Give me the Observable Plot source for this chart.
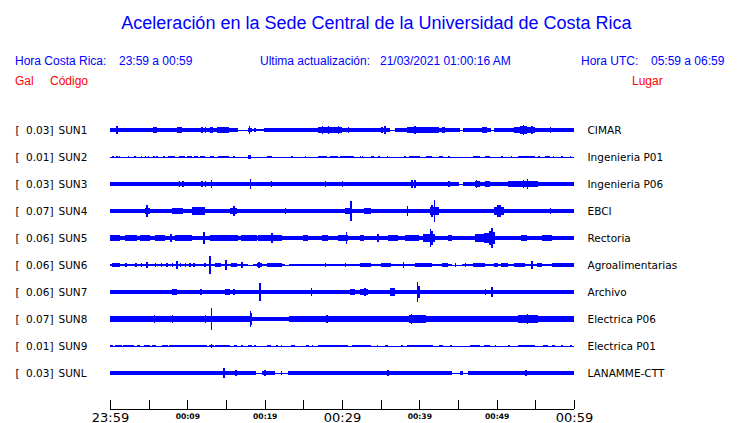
<!DOCTYPE html>
<html><head><meta charset="utf-8">
<script src="https://cdn.jsdelivr.net/npm/d3@7"></script>
<script src="https://cdn.jsdelivr.net/npm/@observablehq/plot@0.6"></script>
<style>
body{margin:0;background:#fff;}
#wrap{position:relative;width:740px;height:423px;overflow:hidden;background:#fff;}
#head{position:absolute;left:0;top:0;}
#chart{position:absolute;left:0;top:90px;}
</style></head><body>
<div id="wrap"><svg id="head" width="740" height="90"></svg><div id="chart"></div></div>
<script>
// ---- data ----
const codes = ["SUN1","SUN2","SUN3","SUN4","SUN5","SUN6","SUN7","SUN8","SUN9","SUNL"];
const places = ["CIMAR","Ingenieria P01","Ingenieria P06","EBCI","Rectoria","Agroalimentarias","Archivo","Electrica P06","Electrica P01","LANAMME-CTT"];
const peakGal = [0.03,0.01,0.03,0.07,0.06,0.06,0.06,0.07,0.01,0.03];
// half-amplitude (Gal) of the background noise band of each trace
const baseGal = [0.0095,0,0.0105,0.0095,0.0125,0.0075,0.011,0.016,0,0.0095];
// minutes after 23:59 where the background band drops to the bare line
const thinSpans = [
  [[16.6,17.9],[18.4,19.9],[36.2,36.85],[45.3,45.9],[49.3,49.6]],
  [],
  [[45.1,45.6]],
  [],
  [],
  [[17.9,18.5],[22.6,23.1],[44.2,45.5]],
  [],
  [[18.3,23.1]],
  [],
  [[18.9,19.6],[21.3,23.06],[44.2,45.3],[45.7,46.3]]
];
// bursts: [start minute, end minute, half-amplitude Gal]
const bursts = [
  [[8.6,9.35,0.016],[13.8,15.4,0.018],[18.4,19.9,0.006],[20.0,20.9,0.015],[26.9,30.0,0.02],[30.6,31.5,0.014],[32.3,34.0,0.013],[38.4,42.5,0.016],[39.2,40.1,0.02],[42.7,43.5,0.014],[48.1,48.7,0.018],[52.2,54.9,0.02],[53.0,53.9,0.026],[56.2,57.5,0.013]],
  [[6.9,7.1,0.008],[7.5,8.4,0.008],[8.9,9.7,0.008],[9.9,10.6,0.008],[10.8,11.4,0.008],[11.6,12.3,0.008],[12.9,13.5,0.007],[14.0,15.4,0.008],[17.9,18.2,0.011],[20.3,20.9,0.009],[26.9,28.1,0.009],[28.4,29.5,0.008],[29.7,31.5,0.008],[33.8,34.2,0.007],[38.7,40.1,0.008],[40.9,41.6,0.008],[42.5,43.1,0.008],[47.0,47.8,0.008],[48.5,49.1,0.007],[52.7,55.0,0.009],[56.2,56.9,0.007]],
  [[0.86,1.1,0.015],[1.5,2.4,0.013],[4.9,5.4,0.015],[5.8,6.7,0.014],[6.9,12.5,0.015],[14.0,16.4,0.015],[26.9,31.5,0.015],[40.3,41.6,0.015],[47.2,47.8,0.017],[48.5,49.1,0.017],[51.5,55.4,0.017],[55.4,57.5,0.013]],
  [[3.2,3.9,0.015],[4.5,5.2,0.02],[5.4,6.0,0.015],[8.0,9.5,0.017],[10.6,12.3,0.022],[11.4,12.1,0.026],[12.7,14.9,0.013],[15.5,16.4,0.02],[25.6,26.1,0.015],[30.4,31.25,0.018],[32.8,33.8,0.017],[39.9,40.3,0.014],[41.4,42.5,0.022],[44.4,45.5,0.015],[49.6,50.9,0.028],[50.0,50.6,0.035],[55.2,55.8,0.014],[58.4,59.7,0.013]],
  [[0,1.3,0.018],[1.9,3.45,0.016],[3.9,5.2,0.017],[5.8,7.1,0.016],[8.4,10.6,0.016],[12.9,16.6,0.016],[17.0,19.0,0.016],[19.2,22.2,0.016],[23.3,24.1,0.015],[25.0,25.6,0.02],[27.4,28.2,0.016],[29.5,30.8,0.02],[32.3,32.8,0.016],[36.0,37.3,0.016],[38.1,39.9,0.016],[40.5,42.0,0.025],[43.75,44.2,0.018],[47.2,48.7,0.022],[48.3,49.6,0.03],[53.2,53.9,0.016],[55.8,57.1,0.016],[58.6,59.7,0.015]],
  [[0.2,1.3,0.013],[13.6,14.4,0.014],[15.7,16.4,0.013],[19.0,19.6,0.015],[20.3,22.2,0.01],[32.3,33.8,0.012],[35.1,36.4,0.011],[39.4,41.6,0.012],[42.9,43.75,0.012],[47.0,48.5,0.012],[49.6,50.2,0.012],[50.6,51.5,0.014],[52.2,53.7,0.012],[55.2,55.8,0.013],[57.1,60,0.011]],
  [[4.7,5.2,0.015],[8.0,8.6,0.02],[11.6,11.85,0.017],[14.9,15.5,0.02],[28.4,28.9,0.015],[31.0,31.7,0.02],[32.3,33.2,0.02],[36.2,36.85,0.022],[46.8,47.4,0.015]],
  [[0,4.1,0.02],[4.5,12.5,0.02],[13.6,16.4,0.02],[18.3,23.1,0.011],[19.2,20.9,0.014],[23.3,25.2,0.018],[26.9,30.4,0.02],[32.3,33.8,0.018],[34.7,36.0,0.018],[38.6,40.9,0.022],[42.5,44.2,0.018],[46.55,51.5,0.019],[52.8,55.4,0.023],[56.2,60,0.018]],
  [[0,0.4,0.008],[0.65,1.5,0.008],[1.7,2.8,0.008],[2.9,3.15,0.008],[3.45,3.9,0.008],[4.4,5.2,0.008],[5.4,6.0,0.008],[6.7,7.5,0.008],[7.6,12.5,0.008],[12.8,13.4,0.008],[13.6,15.5,0.008],[16.0,16.4,0.008],[17.9,18.3,0.008],[20.3,20.8,0.008],[23.4,23.9,0.007],[25.3,25.7,0.008],[26.9,30.8,0.008],[31.25,33.8,0.008],[35.6,35.9,0.008],[38.4,41.8,0.008],[42.5,43.1,0.008],[46.55,47.8,0.008],[48.3,49.1,0.008],[52.7,55.0,0.008],[56.0,56.7,0.008],[57.1,57.5,0.008],[59.5,59.7,0.008]],
  [[17.0,18.9,0.012],[19.6,21.3,0.012],[23.3,24.8,0.012],[26.9,29.5,0.011],[35.1,36.0,0.013],[46.55,51.5,0.012]]
];
// spikes: [minute, half-amplitude Gal]
const spikes = [
  [[0.86,0.023],[3.1,0.015],[5.6,0.021],[5.9,0.018],[11.85,0.017],[12.3,0.016],[12.9,0.019],[13.1,0.02],[14.65,0.02],[17.97,0.028],[18.7,0.014],[25.2,0.012],[27.4,0.024],[28.2,0.022],[29.5,0.026],[30.8,0.016],[32.6,0.015],[33.2,0.015],[34.5,0.015],[35.1,0.016],[35.5,0.022],[37.7,0.013],[39.4,0.022],[42.9,0.017],[43.1,0.016],[45.7,0.015],[48.4,0.018],[53.4,0.032],[53.2,0.028],[54.5,0.022],[56.9,0.016],[58.4,0.015]],
  [[0.3,0.006],[0.86,0.007],[1.16,0.005],[2.3,0.006],[3.15,0.006],[4.0,0.006],[4.5,0.006],[4.9,0.006],[5.6,0.006],[6.0,0.006],[16.0,0.006],[23.5,0.006],[25.2,0.006],[32.3,0.007],[32.6,0.006],[34.7,0.006],[35.8,0.007],[38.1,0.007],[43.75,0.007],[50.6,0.006],[51.85,0.006],[55.4,0.006],[57.3,0.006],[58.4,0.005],[59.5,0.006]],
  [[3.15,0.014],[8.9,0.018],[9.35,0.018],[11.85,0.018],[12.3,0.017],[13.06,0.027],[18.1,0.03],[19.0,0.014],[20.5,0.015],[20.8,0.02],[22.1,0.013],[23.5,0.013],[25.2,0.012],[27.8,0.02],[30.0,0.02],[32.5,0.014],[34.05,0.014],[35.8,0.014],[39.0,0.025],[39.4,0.025],[42.7,0.015],[43.75,0.018],[47.3,0.022],[53.4,0.022],[53.9,0.03]],
  [[1.0,0.015],[4.7,0.035],[8.9,0.02],[11.85,0.028],[12.1,0.024],[15.95,0.03],[17.9,0.013],[19.2,0.013],[20.5,0.013],[21.8,0.013],[22.6,0.016],[26.9,0.012],[28.2,0.013],[31.1,0.06],[35.1,0.014],[38.4,0.03],[41.6,0.04],[41.9,0.07],[46.8,0.014],[48.1,0.013],[50.3,0.035],[56.9,0.02],[59.5,0.013]],
  [[7.8,0.023],[12.1,0.035],[20.9,0.03],[30.5,0.035],[34.6,0.027],[41.4,0.057],[41.6,0.045],[49.1,0.045],[49.35,0.06],[49.6,0.04]],
  [[2.0,0.013],[3.3,0.012],[4.0,0.013],[4.7,0.02],[5.8,0.013],[6.6,0.013],[7.3,0.013],[8.0,0.013],[8.6,0.028],[9.05,0.015],[9.7,0.013],[10.3,0.013],[10.8,0.013],[12.2,0.015],[12.85,0.055],[14.95,0.03],[17.0,0.017],[17.1,0.017],[19.2,0.017],[27.8,0.013],[30.4,0.015],[37.9,0.017],[44.6,0.012],[45.9,0.012],[54.5,0.028]],
  [[1.5,0.015],[3.6,0.014],[7.1,0.014],[8.4,0.02],[9.7,0.015],[10.3,0.014],[15.95,0.02],[17.2,0.015],[18.3,0.015],[19.3,0.057],[25.0,0.015],[26.0,0.025],[26.9,0.015],[27.8,0.015],[30.0,0.015],[32.9,0.025],[33.2,0.02],[33.8,0.014],[34.5,0.014],[36.4,0.02],[37.5,0.015],[39.7,0.06],[39.9,0.04],[42.2,0.014],[43.5,0.013],[48.5,0.016],[49.3,0.03],[50.4,0.014],[52.8,0.014],[56.25,0.013]],
  [[5.7,0.026],[8.0,0.025],[12.3,0.025],[13.06,0.07],[18.1,0.052],[18.2,0.04],[28.0,0.027],[38.9,0.03],[44.2,0.02],[53.4,0.028],[53.9,0.033]],
  [[13.06,0.012],[17.0,0.008],[18.7,0.008],[21.55,0.008],[22.1,0.008],[26.1,0.008],[34.5,0.008],[37.7,0.008],[44.0,0.008],[49.8,0.008],[51.5,0.008],[58.4,0.008]],
  [[0.1,0.015],[2.8,0.015],[3.66,0.012],[10.3,0.015],[10.8,0.015],[11.6,0.013],[14.65,0.03],[16.25,0.02],[17.6,0.014],[18.1,0.014],[20.0,0.02],[22.1,0.012],[35.9,0.02],[45.5,0.015],[53.7,0.016],[55.6,0.013],[59.5,0.015]]
];
const tickMinutes = d3.range(0, 61, 5);
const labelMinutes = [0, 10, 20, 30, 40, 50, 60];
const tickLabels = ["23:59","00:09","00:19","00:29","00:39","00:49","00:59"];
const bigLabels = ["23:59","00:29","00:59"];

// ---- header ----
const head = d3.select("#head");
const hf = '"Liberation Sans", Arial, sans-serif';
const BLUE = "#0000ff", RED = "#ff0000";
head.append("text").attr("x", 376.5).attr("y", 29).attr("text-anchor","middle")
  .attr("font-family", hf).attr("font-size", 18).attr("fill", BLUE)
  .text("Aceleración en la Sede Central de la Universidad de Costa Rica");
[[15,"Hora Costa Rica:"],[119,"23:59 a 00:59"],[260,"Ultima actualización:"],[380,"21/03/2021 01:00:16 AM"],[581,"Hora UTC:"],[651,"05:59 a 06:59"]]
  .forEach(([x,t]) => head.append("text").attr("x",x).attr("y",64.5).attr("font-family",hf).attr("font-size",12).attr("fill",BLUE).text(t));
[[15,"Gal"],[50,"Código"],[632,"Lugar"]]
  .forEach(([x,t]) => head.append("text").attr("x",x).attr("y",84.5).attr("font-family",hf).attr("font-size",12).attr("fill",RED).text(t));

// ---- tables ----
const GAIN = 160 / 27; // row units per Gal
const idx = d3.range(codes.length);
const baseSegs = [];
idx.forEach(i => {
  if (!baseGal[i]) return;
  let start = 0;
  for (const [a, b] of thinSpans[i].slice().sort((p, q) => p[0] - q[0])) {
    if (a > start) baseSegs.push({i, m0: start, m1: a, a: baseGal[i]});
    start = b;
  }
  if (start < 60) baseSegs.push({i, m0: start, m1: 60, a: baseGal[i]});
});
const burstRows = idx.flatMap(i => bursts[i].map(([m0, m1, a]) => ({i, m0, m1, a})));
const spikeRows = idx.flatMap(i => spikes[i].map(([m, a]) => ({i, m, a})));
const AXIS_Y = (319 - 40) / 27, TICK_TOP = (310 - 40) / 27;
const lf = '"DejaVu Sans", sans-serif';

const chart = Plot.plot({
  width: 740, height: 333,
  marginLeft: 110, marginRight: 166, marginTop: 0, marginBottom: 0,
  x: {domain: [0, 60], axis: null},
  y: {domain: [0, 9], range: [40, 283], axis: null},
  marks: [
    Plot.ruleY(idx, {y: d => d, x1: 0, x2: 60, stroke: BLUE, strokeWidth: 1, shapeRendering: "crispEdges"}),
    Plot.rect(baseSegs, {x1: "m0", x2: "m1", y1: d => d.i - d.a * GAIN, y2: d => d.i + d.a * GAIN, fill: BLUE, shapeRendering: "crispEdges"}),
    Plot.rect(burstRows, {x1: "m0", x2: "m1", y1: d => d.i - d.a * GAIN, y2: d => d.i + d.a * GAIN, fill: BLUE, shapeRendering: "crispEdges"}),
    Plot.ruleX(spikeRows, {x: "m", y1: d => d.i - d.a * GAIN, y2: d => d.i + d.a * GAIN, stroke: BLUE, strokeWidth: 1.5, shapeRendering: "crispEdges"}),
    Plot.text(idx, {x: 0, y: d => d, text: () => "[", dx: -95, textAnchor: "start", fontFamily: lf, fontSize: 10.5, fill: "black"}),
    Plot.text(idx, {x: 0, y: d => d, text: d => peakGal[d].toFixed(2) + "]", dx: -57, textAnchor: "end", fontFamily: lf, fontSize: 10.5, fill: "black"}),
    Plot.text(idx, {x: 0, y: d => d, text: d => codes[d], dx: -52, textAnchor: "start", fontFamily: lf, fontSize: 10.5, fill: "black"}),
    Plot.text(idx, {x: 60, y: d => d, text: d => places[d], dx: 13, textAnchor: "start", fontFamily: lf, fontSize: 10.5, fill: "black"}),
    Plot.ruleY([AXIS_Y], {x1: 0, x2: 60, stroke: "black", strokeWidth: 1, shapeRendering: "crispEdges"}),
    Plot.ruleX(tickMinutes, {x: d => d, y1: TICK_TOP, y2: AXIS_Y, stroke: "black", strokeWidth: 1, shapeRendering: "crispEdges"}),
    Plot.text(labelMinutes.filter((m, k) => bigLabels.includes(tickLabels[k])), {x: d => d, y: AXIS_Y, text: d => tickLabels[labelMinutes.indexOf(d)], dy: 12, lineAnchor: "bottom", fontFamily: lf, fontSize: 13, fill: "black"}),
    Plot.text(labelMinutes.filter((m, k) => !bigLabels.includes(tickLabels[k])), {x: d => d, y: AXIS_Y, text: d => tickLabels[labelMinutes.indexOf(d)], dy: 9, lineAnchor: "bottom", fontFamily: lf, fontSize: 7.6, fontWeight: "bold", fill: "black"})
  ]
});
document.getElementById("chart").appendChild(chart);
</script>
</body></html>
